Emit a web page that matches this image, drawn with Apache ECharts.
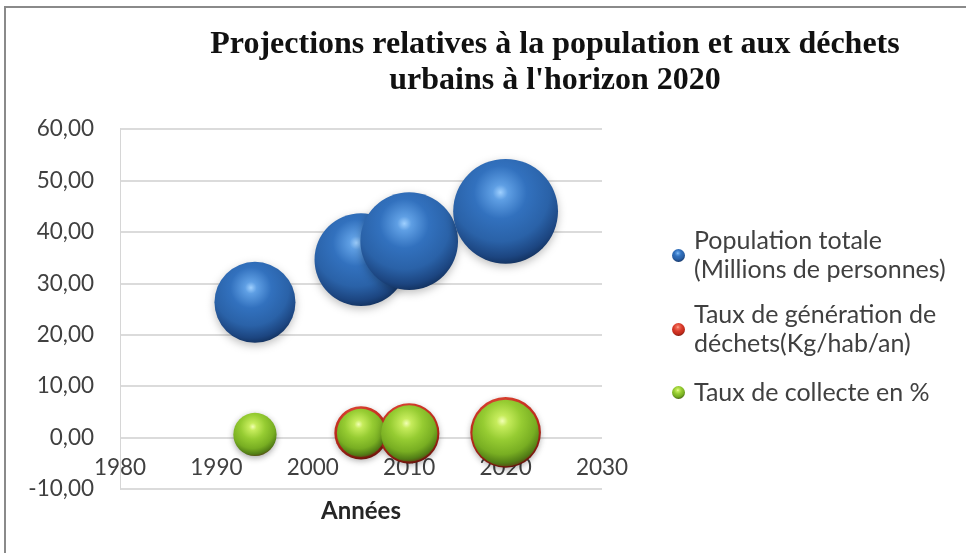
<!DOCTYPE html>
<html>
<head>
<meta charset="utf-8">
<script src="https://cdn.jsdelivr.net/npm/echarts@6/dist/echarts.min.js"></script>
<style>
  html, body { margin: 0; padding: 0; background: #ffffff; }
  #chart { width: 966px; height: 553px; }
</style>
</head>
<body>
<div id="chart"></div>
<script>
// Années (axe horizontal)
const years = [1994, 2005, 2010, 2020];
// Population totale (millions) et taille des bulles
const population = [26.3, 34.6, 38.2, 44.0];
const populationSize = [26.3, 34.6, 38.2, 44.0];
// Taux de génération de déchets (Kg/hab/an) et taille des bulles
const generation = [0.6, 0.9, 0.8, 1.0];
const generationSize = [7.0, 11.4, 14.6, 20.0];
// Taux de collecte en % et taille des bulles
const collecte = [0.6, 0.9, 0.8, 0.9];
const collecteSize = [7.5, 9.3, 12.7, 17.7];

const yTicks = { min: -10, max: 60, step: 10 };
const xTicks = { min: 1980, max: 2030, step: 10 };

const seriesNames = [
  'Population totale\n(Millions de personnes)',
  'Taux de génération de\ndéchets(Kg/hab/an)',
  'Taux de collecte en %'
];

// diameter (px) per sqrt of bubble size: bubble area follows the size value
const BUBBLE_K = 15.8;

// plot box
const GRID = { left: 120, right: 364, top: 129, bottom: 64 };
const gridHeight = 553 - GRID.top - GRID.bottom;
// horizontal axis crosses the vertical one at 0: shift it up from the bottom edge
const xAxisShift = -gridHeight * (0 - yTicks.min) / (yTicks.max - yTicks.min);

function sphere(stops) {
  return {
    type: 'radial', x: 0.45, y: 0.32, r: 0.72,
    colorStops: stops.map(s => ({ offset: s[0], color: s[1] }))
  };
}
const blueSphere = sphere([[0, '#9fd0ff'], [0.1, '#5f9fe4'], [0.35, '#3271be'],
                           [0.65, '#2a62a8'], [0.86, '#1c4580'], [1, '#0f2a52']]);
const redSphere = sphere([[0, '#ffb0a0'], [0.15, '#f06a55'], [0.45, '#d83a2a'],
                          [0.75, '#c02a1a'], [0.9, '#8a1c10'], [1, '#5a100a']]);
const greenSphere = sphere([[0, '#f2ffb4'], [0.12, '#c6ec5c'], [0.4, '#96cc32'],
                            [0.7, '#78ae22'], [0.88, '#527e16'], [1, '#5a3412']]);

function bubbles(xs, ys, sizes) {
  return xs.map((x, i) => [x, ys[i], sizes[i]]);
}

const labelFont = { fontFamily: 'Lato', fontSize: 22.5, color: '#404040' };
const LEGEND_LINE = 29;

function legendBlock(name, top, twoLines) {
  return {
    show: true,
    data: [{ name: name, icon: 'circle' }],
    left: 672, top: top,
    itemWidth: 13, itemHeight: 13, itemGap: 0,
    padding: 0,
    textStyle: {
      fontFamily: 'Lato', fontSize: 25, color: '#404040',
      lineHeight: LEGEND_LINE,
      padding: twoLines ? [LEGEND_LINE, 0, 0, 4] : [0, 0, 0, 4]
    }
  };
}

const chart = echarts.init(document.getElementById('chart'), null, { renderer: 'canvas' });
chart.setOption({
  animation: false,
  backgroundColor: '#ffffff',
  graphic: [{
    type: 'rect',
    shape: { x: 5, y: 7, width: 1000, height: 600 },
    style: { fill: 'none', stroke: '#8a8a8a', lineWidth: 2 },
    z: -10
  }],
  title: {
    text: 'Projections relatives à la population et aux déchets\nurbains à l\'horizon 2020',
    left: 550, top: 22, textAlign: 'center',
    textStyle: {
      fontFamily: 'Liberation Serif', fontWeight: 'bold', fontSize: 32,
      color: '#111111', lineHeight: 36
    }
  },
  legend: [
    legendBlock(seriesNames[0], 212, true),
    legendBlock(seriesNames[1], 286, true),
    legendBlock(seriesNames[2], 378, false)
  ],
  grid: Object.assign({ containLabel: false, outerBoundsMode: 'none' }, GRID),
  xAxis: {
    type: 'value',
    min: xTicks.min, max: xTicks.max, interval: xTicks.step,
    position: 'bottom', offset: xAxisShift,
    name: 'Années', nameLocation: 'middle', nameGap: 62,
    nameTextStyle: { fontFamily: 'Lato', fontSize: 24, fontWeight: 'bold', color: '#262626' },
    axisLine: { show: false, onZero: false },
    axisTick: { show: false },
    splitLine: { show: false },
    axisLabel: Object.assign({ margin: 19, formatter: v => String(v) }, labelFont)
  },
  yAxis: {
    type: 'value',
    min: yTicks.min, max: yTicks.max, interval: yTicks.step,
    axisLine: { show: true, lineStyle: { color: '#d6d6d6', width: 1 } },
    axisTick: { show: false },
    splitLine: { show: true, lineStyle: { color: '#cfcfcf', width: 1.6 } },
    axisLabel: Object.assign({
      margin: 26,
      formatter: v => v.toFixed(2).replace('.', ',')
    }, labelFont)
  },
  series: [
    {
      name: seriesNames[0], type: 'scatter',
      data: bubbles(years, population, populationSize),
      symbolSize: d => BUBBLE_K * Math.sqrt(d[2]),
      itemStyle: { color: blueSphere, opacity: 1, shadowColor: 'rgba(0,0,0,0.25)', shadowBlur: 8, shadowOffsetY: 3 }
    },
    {
      name: seriesNames[1], type: 'scatter',
      data: bubbles(years, generation, generationSize),
      symbolSize: d => BUBBLE_K * Math.sqrt(d[2]),
      itemStyle: { color: redSphere, opacity: 1, shadowColor: 'rgba(0,0,0,0.2)', shadowBlur: 6, shadowOffsetY: 2 }
    },
    {
      name: seriesNames[2], type: 'scatter',
      data: bubbles(years, collecte, collecteSize),
      symbolSize: d => BUBBLE_K * Math.sqrt(d[2]),
      itemStyle: { color: greenSphere, opacity: 1, shadowColor: 'rgba(0,0,0,0.2)', shadowBlur: 6, shadowOffsetY: 2 }
    }
  ]
});
</script>
</body>
</html>
